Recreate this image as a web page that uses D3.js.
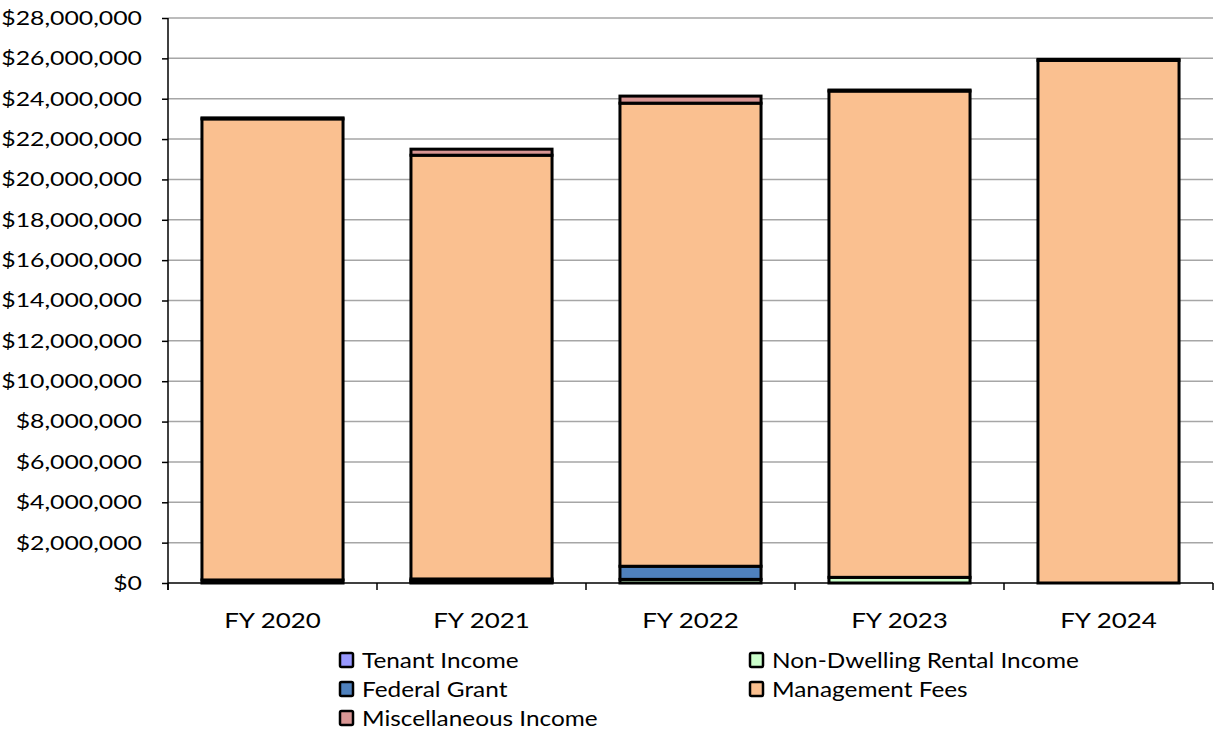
<!DOCTYPE html>
<html>
<head>
<meta charset="UTF-8">
<title>Revenue by fiscal year</title>
<script src="https://cdn.jsdelivr.net/npm/d3@7"></script>
<style>
  body { margin: 0; background: #fff; }
  svg text { font-family: Lato, "Open Sans", sans-serif; fill: #000; }
</style>
</head>
<body>
<svg id="chart" width="1214" height="734"></svg>
<script>
// data (dollars)
const years = ["FY 2020", "FY 2021", "FY 2022", "FY 2023", "FY 2024"];
const seriesNames = ["Tenant Income", "Non-Dwelling Rental Income", "Federal Grant", "Management Fees", "Miscellaneous Income"];
const tenantIncome = [0, 60000, 0, 0, 0];
const nonDwelling = [0, 60000, 180000, 280000, 0];
const federalGrant = [150000, 80000, 650000, 0, 0];
const managementFees = [22850000, 21000000, 22950000, 24100000, 25900000];
const miscIncome = [50000, 300000, 350000, 50000, 50000];
const yTicks = [0, 2e6, 4e6, 6e6, 8e6, 10e6, 12e6, 14e6, 16e6, 18e6, 20e6, 22e6, 24e6, 26e6, 28e6];
const colors = ["#9999ff", "#ccffcc", "#4f81bd", "#fac090", "#d99694"];

const svg = d3.select("#chart");
const plotLeft = 168, plotRight = 1213, plotTop = 18, plotBottom = 583;

const rows = years.map((y, i) => ({
  year: y,
  "Tenant Income": tenantIncome[i],
  "Non-Dwelling Rental Income": nonDwelling[i],
  "Federal Grant": federalGrant[i],
  "Management Fees": managementFees[i],
  "Miscellaneous Income": miscIncome[i]
}));

const x = d3.scaleBand().domain(years).range([plotLeft, plotRight]).paddingInner(0.325).paddingOuter(0.1625);
const y = d3.scaleLinear().domain([0, 28e6]).range([plotBottom, plotTop]);
const color = d3.scaleOrdinal().domain(seriesNames).range(colors);

// the original font runs wider than Lato, so stretch text to match
function widen(sel, k) {
  sel.each(function () {
    const w = this.getComputedTextLength();
    d3.select(this).attr("textLength", w * k).attr("lengthAdjust", "spacingAndGlyphs");
  });
}

// gridlines
svg.append("g")
  .selectAll("line").data(yTicks.slice(1)).join("line")
  .attr("x1", plotLeft).attr("x2", plotRight)
  .attr("y1", d => y(d)).attr("y2", d => y(d))
  .attr("stroke", "#a6a6a6").attr("stroke-width", 1.5);

// stacked bars
const stacked = d3.stack().keys(seriesNames)(rows);
svg.append("g")
  .selectAll("g").data(stacked).join("g")
  .attr("fill", d => color(d.key))
  .selectAll("rect").data(d => d.filter(p => p[1] - p[0] > 0)).join("rect")
  .attr("x", d => x(d.data.year))
  .attr("width", x.bandwidth())
  .attr("y", d => y(d[1]))
  .attr("height", d => y(d[0]) - y(d[1]))
  .attr("stroke", "#000").attr("stroke-width", 3);

// y axis
const yAxis = svg.append("g")
  .attr("transform", `translate(${plotLeft},0)`)
  .call(d3.axisLeft(y).tickValues(yTicks).tickSize(6).tickPadding(20)
    .tickFormat(d => "$" + d3.format(",")(d)));
yAxis.select(".domain").attr("d", `M0,${plotTop}V${plotBottom + 7}`).attr("stroke", "#000").attr("stroke-width", 1.5);
yAxis.selectAll(".tick line").attr("stroke", "#000").attr("stroke-width", 1.5);
yAxis.selectAll("text").attr("font-size", 20).attr("font-family", "Lato, sans-serif").call(widen, 1.24);

// x axis
const xAxis = svg.append("g")
  .attr("transform", `translate(0,${plotBottom})`)
  .call(d3.axisBottom(x).tickSize(0).tickPadding(29));
xAxis.select(".domain").attr("d", `M${plotLeft},0H${plotRight}`).attr("stroke", "#000").attr("stroke-width", 1.5);
xAxis.selectAll("text").attr("font-size", 22).attr("font-family", "Lato, sans-serif").call(widen, 1.18);
const step = x.step();
xAxis.append("g").selectAll("line").data(d3.range(years.length + 1)).join("line")
  .attr("x1", i => plotLeft + i * step).attr("x2", i => plotLeft + i * step)
  .attr("y1", 0).attr("y2", 7)
  .attr("stroke", "#000").attr("stroke-width", 1.5);

// legend
const legendPos = [[340, 661], [750, 661], [340, 690], [750, 690], [340, 719]];
const legend = svg.append("g").selectAll("g").data(seriesNames).join("g")
  .attr("transform", (d, i) => `translate(${legendPos[i][0]},${legendPos[i][1]})`);
legend.append("rect")
  .attr("x", 0).attr("y", -8).attr("width", 13).attr("height", 14).attr("rx", 1.5)
  .attr("fill", d => color(d)).attr("stroke", "#000").attr("stroke-width", 2.5);
legend.append("text")
  .attr("x", 22).attr("y", 0).attr("dy", "0.35em")
  .attr("font-size", 21)
  .text(d => d)
  .call(widen, 1.16);
</script>
</body>
</html>
